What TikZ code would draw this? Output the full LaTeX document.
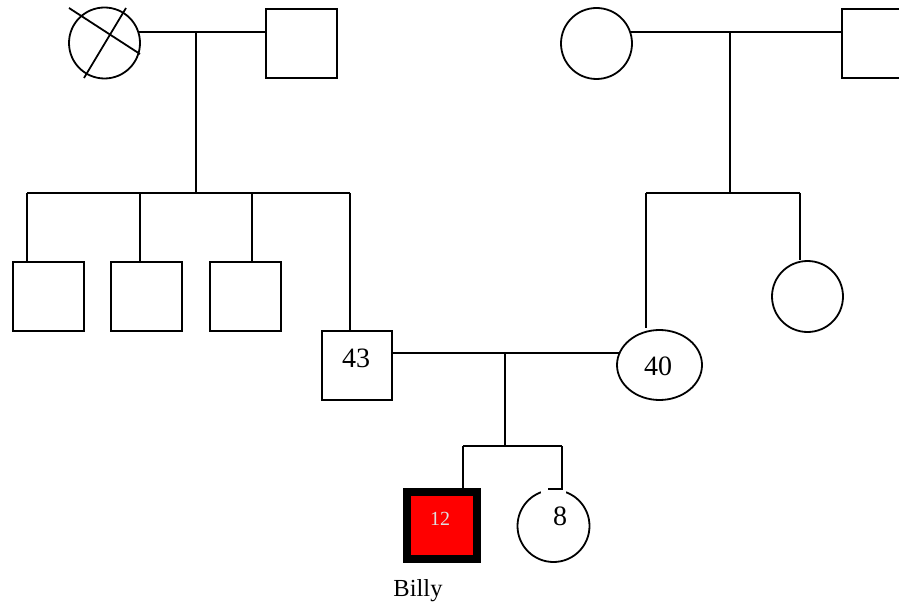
\documentclass[tikz,border=0pt]{standalone}
\usepackage{fontspec}
\setmainfont{Liberation Serif}
\usetikzlibrary{shapes.geometric}
\definecolor{affected}{RGB}{255,0,0}
\definecolor{agegray}{RGB}{222,222,222}
\begin{document}
\begin{tikzpicture}[x=1pt,y=-1pt,line width=1.8pt,
  malebox/.style={draw,rectangle,minimum width=71pt,minimum height=69pt,inner sep=0pt},
  femalecirc/.style={draw,circle,minimum size=71pt,inner sep=0pt},
  agetext/.style={font=\fontsize{28}{30}\selectfont,inner sep=0pt},
  link/.style={line width=1.8pt}]
\clip (0,0) rectangle (899,604);

% grandparents, father's side
\node[femalecirc] (gm1) at (104.5,43) {};
\node[malebox] (gf1) at (301.5,43.5) {};
\draw (69,8) -- (140,54);
\draw (126,8) -- (84,78);

% grandparents, mother's side
\node[femalecirc] (gm2) at (596.5,43.5) {};
\node[malebox] (gf2) at (877.5,43.5) {};

% father's brothers
\node[malebox] (u1) at (48.5,296.5) {};
\node[malebox] (u2) at (146.5,296.5) {};
\node[malebox] (u3) at (245.5,296.5) {};

% mother's sister
\node[femalecirc] (aunt) at (807.5,296.5) {};

% parents
\node[malebox,minimum width=70pt] (dad) at (357,365.5) {};
\node[agetext] (dadage) at (356,358.5) {43};
\node[draw,ellipse,minimum width=85pt,minimum height=70pt,inner sep=0pt] (mom) at (659.5,365) {};
\node[agetext] (momage) at (658,366.5) {40};

% children
\node[draw,rectangle,fill=affected,line width=8pt,minimum width=70pt,minimum height=67pt,inner sep=0pt] (billy) at (442,525.5) {};
\node[font=\fontsize{20}{22}\selectfont,text=agegray,inner sep=0pt] (billyage) at (440,519) {12};
\node[font=\fontsize{24.5}{26}\selectfont,anchor=base,inner sep=0pt] (billyname) at (418,596) {Billy};
\node[femalecirc,minimum size=72pt] (sis) at (553.5,526) {};
\fill[white] (541,484) rectangle (566,494.5);
\node[agetext] (sisage) at (560,516.5) {8};

% father's sibship
\coordinate (m1) at (196,32);
\coordinate (s1) at (196,193);
\coordinate (s1L) at (27,193);
\coordinate (s1R) at (350,193);
\draw[link] (gm1.18 |- m1) -- (gf1.west |- m1);
\draw[link] (m1) -- (s1);
\draw[link] (s1L) -- (s1R);
\draw[link] (s1L) -- (s1L |- u1.north);
\draw[link] ([xshift=-6.5pt]u2.north |- s1L) -- ([xshift=-6.5pt]u2.north);
\draw[link] ([xshift=6.5pt]u3.north |- s1L) -- ([xshift=6.5pt]u3.north);
\draw[link] (s1R) -- (s1R |- dad.north);

% mother's sibship
\coordinate (m2) at (730,32);
\coordinate (s2) at (730,193);
\coordinate (s2L) at (646,193);
\coordinate (s2R) at (800,193);
\draw[link] (gm2.19 |- m2) -- (gf2.west |- m2);
\draw[link] (m2) -- (s2);
\draw[link] (s2L) -- (s2R);
\draw[link] (s2L) -- ([yshift=1.5pt]s2L |- mom.north);
\draw[link] (s2R) -- ([yshift=0.5pt]s2R |- aunt.north);

% parents and their children
\coordinate (m3) at (505,353);
\coordinate (s3) at (505,446);
\coordinate (s3L) at (463,446);
\coordinate (s3R) at (562,446);
\coordinate (sisstub) at (548,489);
\draw[link] (dad.east |- m3) -- (mom.164 |- m3);
\draw[link] (m3) -- (s3);
\draw[link] (s3L) -- (s3R);
\draw[link] (s3L) -- (s3L |- billy.north);
\draw[link] (s3R) -- (s3R |- sisstub) -- (sisstub);
\end{tikzpicture}
\end{document}
